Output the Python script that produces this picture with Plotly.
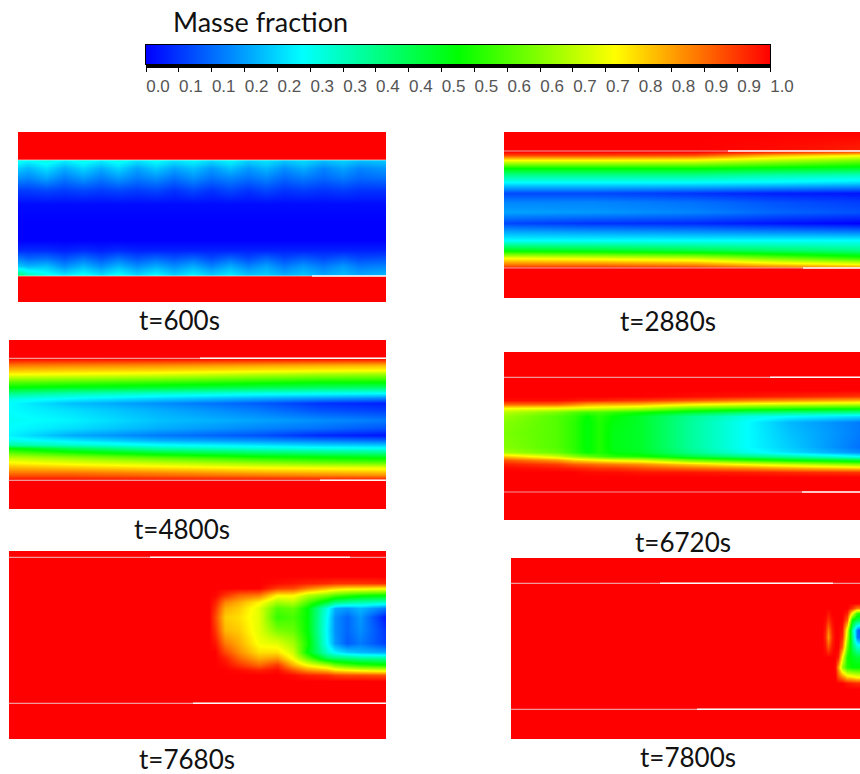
import plotly.graph_objects as go

W, H = 860, 774

# ---------- tick labels / titles ----------
colorbar_title = "Masse fraction"
tick_values = [0.0, 0.0526, 0.1053, 0.1579, 0.2105, 0.2632, 0.3158, 0.3684, 0.4211, 0.4737,
               0.5263, 0.5789, 0.6316, 0.6842, 0.7368, 0.7895, 0.8421, 0.8947, 0.9474, 1.0]
tick_labels = ["0.0", "0.1", "0.1", "0.2", "0.2", "0.3", "0.3", "0.4", "0.4", "0.5",
               "0.5", "0.6", "0.6", "0.7", "0.7", "0.8", "0.8", "0.9", "0.9", "1.0"]
time_labels = ["t=600s", "t=2880s", "t=4800s", "t=6720s", "t=7680s", "t=7800s"]

# ---------- t=600s ----------
x_600 = [0, 10, 28, 46, 65, 83, 100, 119, 138, 156, 175, 193, 212, 230, 248, 266, 285, 305, 325, 341, 368]
y_600 = [0, 27.9, 28.1, 36, 46, 58, 72, 90, 108, 118, 126, 134, 143.9, 144.1, 170]
z_600 = [
    [1]*21,
    [1]*21,
    [.27,.25,.28,.24,.27,.24,.27,.23,.26,.23,.25,.22,.25,.21,.23,.2,.22,.19,.21,.19,.2],
    [.2,.18,.22,.17,.21,.17,.21,.16,.2,.16,.19,.15,.19,.15,.18,.14,.17,.13,.16,.13,.15],
    [.14,.13,.16,.12,.15,.12,.15,.12,.14,.11,.14,.11,.13,.11,.13,.1,.12,.1,.12,.1,.11],
    [.06,.06,.07,.06,.07,.06,.07,.06,.07,.05,.07,.05,.07,.05,.07,.05,.06,.05,.06,.05,.05],
    [.01]*21,
    [0]*21,
    [0]*21,
    [.04,.04,.04,.03,.04,.03,.04,.03,.03,.03,.03,.03,.03,.03,.03,.03,.03,.03,.03,.03,.03],
    [.12,.1,.11,.08,.11,.08,.11,.08,.1,.08,.1,.07,.1,.07,.1,.07,.09,.07,.09,.07,.08],
    [.2,.18,.19,.14,.18,.14,.18,.14,.17,.14,.17,.13,.17,.13,.16,.12,.15,.12,.15,.12,.13],
    [.42,.34,.28,.24,.27,.23,.27,.22,.26,.21,.25,.21,.24,.2,.21,.18,.2,.17,.19,.17,.19],
    [1]*21,
    [1]*21,
]

# ---------- t=2880s ----------
x_2880 = [0, 90, 190, 270, 356]
y_2880 = [0, 18, 20, 23, 28, 36, 43, 50, 61, 70, 80, 91, 100, 108, 118, 126, 133, 135.9, 136.1, 166]
z_2880 = [
    [1, 1, 1, 1, 1],
    [1, 1, 1, .99, .97],
    [.99, .99, .99, .95, .9],
    [.93, .93, .92, .82, .76],
    [.75, .75, .74, .68, .62],
    [.5, .5, .5, .48, .46],
    [.36, .36, .36, .33, .31],
    [.25, .25, .25, .24, .22],
    [.07, .07, .05, .03, .02],
    [.13, .13, .11, .08, .06],
    [.16, .15, .13, .1, .08],
    [.07, .05, .04, .02, 0],
    [.17, .16, .15, .14, .13],
    [.25, .25, .25, .25, .25],
    [.48, .46, .43, .4, .37],
    [.75, .73, .7, .62, .55],
    [.9, .9, .88, .82, .78],
    [.98, .98, .97, .93, .88],
    [1, 1, 1, 1, 1],
    [1, 1, 1, 1, 1],
]

# ---------- t=4800s ----------
x_4800 = [0, 60, 150, 250, 310, 377]
y_4800 = [0, 18, 25, 30, 34, 42, 47, 53, 58, 63, 70, 80, 88, 95, 100, 105, 108, 117, 122, 127, 132, 135, 140.2, 140.4, 169]
z_4800 = [
    [1, 1, 1, 1, 1, 1],
    [1, 1, 1, 1, 1, 1],
    [.88, .87, .86, .84, .83, .82],
    [.81, .8, .79, .77, .76, .75],
    [.75, .74, .72, .68, .66, .65],
    [.58, .57, .55, .52, .5, .5],
    [.5, .48, .46, .43, .41, .4],
    [.37, .33, .3, .27, .26, .25],
    [.28, .25, .21, .17, .15, .13],
    [.25, .19, .14, .09, .05, .03],
    [.25, .22, .17, .12, .08, .06],
    [.26, .24, .19, .16, .14, .12],
    [.25, .22, .17, .13, .11, .08],
    [.24, .17, .12, .08, .04, .02],
    [.27, .23, .17, .14, .12, .1],
    [.35, .31, .26, .23, .21, .2],
    [.5, .42, .33, .29, .27, .26],
    [.68, .64, .58, .52, .5, .48],
    [.75, .72, .68, .63, .6, .58],
    [.82, .8, .77, .74, .73, .72],
    [.88, .88, .86, .83, .82, .81],
    [.92, .92, .9, .88, .87, .86],
    [.99, .99, .99, .99, .99, .99],
    [1, 1, 1, 1, 1, 1],
    [1, 1, 1, 1, 1, 1],
]

# ---------- t=6720s ----------
x_6720 = [0, 53, 70, 83, 95, 109, 136, 186, 243, 286, 356]
y_6720 = [0, 38, 44, 48, 52, 56, 60, 64, 70, 81, 95, 100, 104, 108, 112, 116, 120, 125, 168]
z_6720 = [
    [1]*11,
    [1]*11,
    [1, 1, 1, 1, 1, 1, 1, .99, .98, .97, .95],
    [.99, .99, .98, .97, .97, .96, .95, .92, .88, .86, .83],
    [.9, .9, .87, .84, .83, .83, .82, .76, .72, .7, .68],
    [.75, .74, .73, .72, .71, .7, .68, .6, .56, .54, .52],
    [.68, .62, .58, .56, .57, .55, .52, .46, .4, .38, .36],
    [.65, .58, .55, .5, .54, .5, .46, .36, .28, .25, .22],
    [.63, .58, .54, .49, .53, .49, .46, .35, .25, .18, .12],
    [.62, .58, .54, .49, .53, .48, .46, .35, .25, .19, .12],
    [.63, .58, .54, .49, .53, .48, .46, .35, .25, .2, .11],
    [.66, .6, .55, .5, .53, .49, .47, .37, .27, .22, .14],
    [.8, .7, .64, .6, .57, .54, .52, .44, .37, .33, .25],
    [.92, .85, .8, .78, .76, .74, .72, .62, .55, .5, .45],
    [.97, .94, .91, .9, .89, .88, .86, .8, .74, .7, .63],
    [.995, .98, .97, .96, .95, .95, .93, .9, .87, .84, .8],
    [1, 1, 1, .99, .99, .99, .98, .98, .97, .96, .95],
    [1]*11,
    [1]*11,
]

# ---------- t=7680s ----------
x_7680 = [0, 200, 206, 216, 230, 250, 268, 284, 298, 318, 326, 338, 351, 377]
y_7680 = [0, 25, 32.3, 37, 44, 51, 57, 66, 79, 92, 101, 107, 114, 119, 124, 130, 188]
z_7680 = [
    [1]*14,
    [1]*14,
    [1, 1, 1, 1, 1, 1, .99, .98, .97, .96, .95, .95, .95, .96],
    [1, 1, 1, 1, 1, 1, .94, .93, .88, .82, .8, .78, .78, .76],
    [1, 1, .995, .95, .9, .88, .76, .76, .68, .62, .58, .55, .52, .5],
    [1, 1, .97, .87, .83, .76, .66, .68, .58, .45, .38, .35, .33, .3],
    [1, 1, .95, .83, .8, .72, .58, .6, .5, .27, .17, .15, .18, .12],
    [1, 1, .93, .8, .78, .72, .55, .57, .5, .25, .14, .1, .15, .02],
    [1, 1, .95, .82, .8, .72, .62, .6, .5, .24, .14, .1, .14, .05],
    [1, 1, .98, .88, .83, .74, .72, .66, .52, .25, .15, .09, .12, .06],
    [1, 1, 1, .93, .86, .78, .78, .7, .5, .3, .24, .2, .18, .16],
    [1, 1, 1, .97, .9, .83, .85, .74, .6, .42, .4, .38, .36, .35],
    [1, 1, 1, .99, .95, .9, .95, .83, .75, .68, .62, .58, .55, .52],
    [1, 1, 1, 1, .99, .97, .99, .92, .86, .82, .78, .76, .74, .72],
    [1, 1, 1, 1, 1, 1, 1, .99, .97, .96, .94, .93, .93, .92],
    [1]*14,
    [1]*14,
]

# ---------- t=7800s ----------
x_7800 = [0, 305, 311, 314, 317, 321, 324, 327, 331, 336, 341, 346, 349]
y_7800 = [0, 45, 50, 55, 62, 72, 79, 89, 99, 109, 119, 125, 131, 181]
z_7800 = [
    [1]*13,
    [1]*13,
    [1, 1, 1, 1, 1, 1, 1, 1, 1, 1, .95, .88, .88],
    [1, 1, 1, 1, .98, 1, 1, 1, 1, .97, .75, .55, .55],
    [1, 1, 1, .99, .95, .99, 1, 1, 1, .9, .5, .42, .42],
    [1, 1, 1, .97, .88, .97, 1, 1, .98, .72, .35, .12, .08],
    [1, 1, 1, .96, .85, .96, 1, 1, .96, .68, .38, .12, .1],
    [1, 1, 1, .98, .92, .98, 1, 1, .9, .6, .42, .3, .3],
    [1, 1, 1, 1, 1, 1, 1, .97, .75, .52, .48, .45, .45],
    [1, 1, 1, 1, 1, 1, .99, .85, .65, .53, .5, .5, .5],
    [1, 1, 1, 1, 1, 1, 1, .93, .88, .8, .78, .75, .75],
    [1, 1, 1, 1, 1, 1, 1, 1, 1, .98, .97, .96, .96],
    [1]*13,
    [1]*13,
]

# ---------- channel walls: cross-section position, bright start, bright end ----------
walls_600 = [(28, 0, 0), (144, 294, 368)]
walls_2880 = [(19, 224, 356), (136, 299, 356)]
walls_4800 = [(18.3, 191, 377), (140.3, 311, 377)]
walls_6720 = [(25.3, 266, 356), (140, 298, 356)]
walls_7680 = [(6.3, 141, 341), (152.3, 184, 377)]
walls_7800 = [(25.3, 149, 322), (151.3, 186, 349)]

colorscale = [[0, "#0000ff"], [0.25, "#00ffff"], [0.5, "#00ff00"], [0.75, "#ffff00"], [1, "#ff0000"]]

# panel boxes in page pixels: left, top, right, bottom, caption x, caption y
panels = [
    (18, 132, 386, 302, 179, 320, x_600, y_600, z_600, walls_600),
    (504, 132, 860, 298, 668, 321, x_2880, y_2880, z_2880, walls_2880),
    (9, 340, 386, 509, 182, 529, x_4800, y_4800, z_4800, walls_4800),
    (504, 352, 860, 520, 683, 542, x_6720, y_6720, z_6720, walls_6720),
    (9, 551, 386, 739, 187, 759, x_7680, y_7680, z_7680, walls_7680),
    (511, 558, 860, 739, 688, 757, x_7800, y_7800, z_7800, walls_7800),
]

fig = go.Figure()
layout_axes = {}
annotations = []
for i, (l, t, r, b, cx, cy, xs, ys, zs, walls) in enumerate(panels, start=1):
    sfx = "" if i == 1 else str(i)
    fig.add_trace(go.Heatmap(x=xs, y=ys, z=zs, coloraxis="coloraxis", zsmooth="best",
                             xaxis=f"x{sfx}", yaxis=f"y{sfx}", hoverinfo="skip"))
    for wy, s, e in walls:
        fig.add_trace(go.Scatter(x=[xs[0], xs[-1]], y=[wy, wy], mode="lines", showlegend=False,
                                 line=dict(color="rgba(235,215,215,0.7)", width=1.2),
                                 xaxis=f"x{sfx}", yaxis=f"y{sfx}", hoverinfo="skip"))
        if e > s:
            fig.add_trace(go.Scatter(x=[s, e], y=[wy, wy], mode="lines", showlegend=False,
                                     line=dict(color="rgba(255,255,255,0.9)", width=1.5),
                                     xaxis=f"x{sfx}", yaxis=f"y{sfx}", hoverinfo="skip"))
    layout_axes[f"xaxis{sfx}"] = dict(domain=[l / W, r / W], range=[xs[0], xs[-1]], visible=False,
                                      anchor=f"y{sfx}")
    layout_axes[f"yaxis{sfx}"] = dict(domain=[1 - b / H, 1 - t / H], range=[ys[-1], ys[0]], visible=False,
                                      anchor=f"x{sfx}")
    annotations.append(dict(text=time_labels[i - 1], x=cx / W, y=1 - cy / H, xref="paper", yref="paper",
                            xanchor="center", yanchor="middle", showarrow=False,
                            font=dict(family="Lato", size=26, color="#111")))

annotations.append(dict(text=colorbar_title, x=171 / W, y=1 - 21 / H, xref="paper", yref="paper",
                        xanchor="left", yanchor="middle", showarrow=False,
                        font=dict(family="Lato", size=27, color="#111")))

# colour key drawn as a one-row heatmap on its own axis
fig.add_trace(go.Heatmap(x=tick_values, y=[0, 1], z=[tick_values, tick_values], coloraxis="coloraxis",
                         zsmooth="best", xaxis="x7", yaxis="y7", hoverinfo="skip"))
layout_axes["xaxis7"] = dict(
    domain=[146 / W, 770 / W], range=[0, 1], anchor="y7", showgrid=False, zeroline=False,
    showline=True, linecolor="black", linewidth=1, mirror=True,
    tickmode="array", tickvals=tick_values, ticktext=tick_labels,
    ticks="outside", ticklen=7, tickwidth=1, tickcolor="black",
    ticklabelstandoff=0, ticklabelshift=12,
    tickfont=dict(family="Liberation Sans", size=17, color="#555"),
)
layout_axes["yaxis7"] = dict(domain=[1 - 64 / H, 1 - 45 / H], range=[0, 1], anchor="x7", showgrid=False,
                             zeroline=False, showticklabels=False, ticks="", showline=True,
                             linecolor="black", linewidth=1, mirror=True)

fig.update_layout(
    width=W, height=H, margin=dict(l=0, r=0, t=0, b=0, autoexpand=False),
    paper_bgcolor="white", plot_bgcolor="white", showlegend=False,
    annotations=annotations,
    coloraxis=dict(cmin=0, cmax=1, colorscale=colorscale, showscale=False),
    shapes=[dict(type="rect", xref="paper", yref="paper", x0=146 / W, x1=770 / W,
                 y0=1 - 68 / H, y1=1 - 64 / H, fillcolor="black", line_width=0)],
    **layout_axes,
)
fig.write_html("out.html", config={"displayModeBar": False}, post_script="document.body.style.margin='0';")
